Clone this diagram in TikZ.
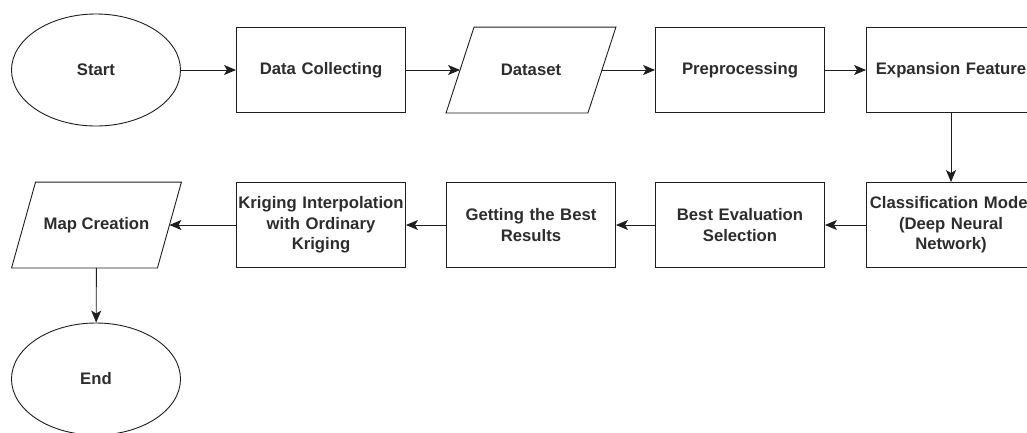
\documentclass[tikz,border=0pt]{standalone}
\usepackage{fontspec}
\setmainfont{Liberation Sans}
\usetikzlibrary{shapes.geometric,arrows.meta}
\definecolor{ink}{RGB}{30,30,30}
\definecolor{txt}{RGB}{45,45,45}
\begin{document}
\begin{tikzpicture}[x=1pt,y=-1pt,
  base/.style={draw=ink, line width=0.9pt, inner sep=0pt, align=center,
    text=txt, font=\fontsize{16.7}{20.5}\selectfont\bfseries},
  procbox/.style={base, rectangle, minimum width=169pt, minimum height=85pt, text width=168pt},
  terminal/.style={base, ellipse, minimum width=169pt, minimum height=112pt},
  % input/output boxes: an undrawn frame whose slanted outline is added below
  iobox/.style={base, draw=none, rectangle, minimum width=169pt, minimum height=85pt},
  outline/.style={draw=ink, line width=0.9pt, line join=miter},
  flow/.style={draw=ink, line width=0.9pt, -{Stealth[length=12pt,width=10pt,inset=3pt]}}]
\clip (0,0) rectangle (1027,432);
\fill[white] (0,0) rectangle (1027,432);

% top row, left to right
\node[terminal] (start) at (96,70)  {Start};
\node[procbox]  (dc)    at (321,70) {Data Collecting};
\node[iobox]    (ds)    at (531,70) {Dataset};
\node[procbox]  (pp)    at (740,70) {Preprocessing};
\node[procbox]  (ef)    at (951,70) {Expansion Feature};

% bottom row, right to left
\node[procbox]  (cm)    at (951,225) {Classification Model\\(Deep Neural\\Network)};
\node[procbox]  (be)    at (740,225) {Best Evaluation\\Selection};
\node[procbox]  (gb)    at (531,225) {Getting the Best\\Results};
\node[procbox]  (kr)    at (321,225) {Kriging Interpolation\\with Ordinary\\Kriging};
\node[iobox]    (mc)    at (96.5,225) {Map Creation};
\node[terminal] (end)   at (96,379)  {End};

% slanted outlines of the input/output boxes
\draw[outline] ([xshift=28pt]ds.north west) -- (ds.north east)
  -- ([xshift=-28pt]ds.south east) -- (ds.south west) -- cycle;
\draw[outline] ([xshift=24pt]mc.north west) -- (mc.north east)
  -- ([xshift=-24pt]mc.south east) -- (mc.south west) -- cycle;

% connectors
\draw[flow] (start) -- (dc);
\draw[flow] (dc) -- ([xshift=14pt]ds.west);
\draw[flow] ([xshift=-14pt]ds.east) -- (pp);
\draw[flow] (pp) -- (ef);
\draw[flow] (ef) -- (cm);
\draw[flow] (cm) -- (be);
\draw[flow] (be) -- (gb);
\draw[flow] (gb) -- (kr);
\draw[flow] (kr) -- ([xshift=-12pt]mc.east);
\draw[flow] (mc) -- (end);
\end{tikzpicture}
\end{document}
